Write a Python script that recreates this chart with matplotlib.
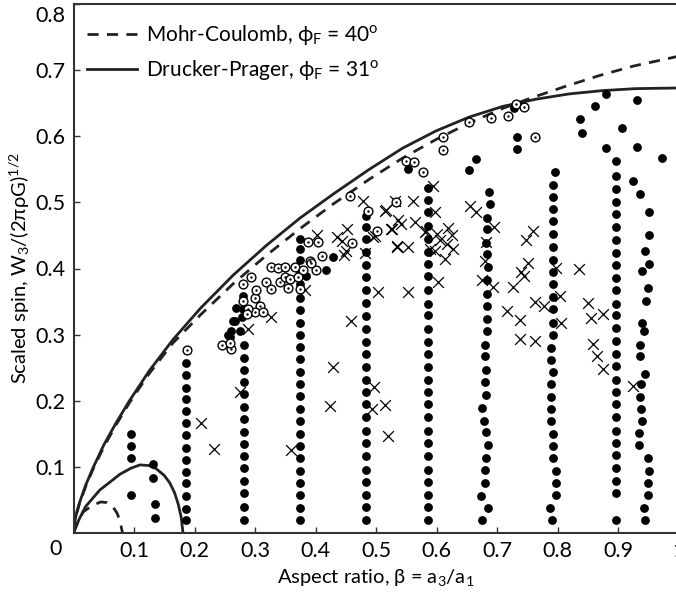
import matplotlib
matplotlib.use("Agg")
import matplotlib.pyplot as plt
from matplotlib.transforms import ScaledTranslation

FONT = "Lato"
plt.rcParams['font.family'] = [FONT, 'DejaVu Sans']
plt.rcParams['mathtext.fontset'] = 'custom'
plt.rcParams['mathtext.rm'] = FONT
plt.rcParams['mathtext.it'] = FONT
plt.rcParams['mathtext.bf'] = FONT

# ---------------- data ----------------
# theoretical limit curves
dp_outer_x = [0, 0.002, 0.005, 0.010, 0.020, 0.032, 0.050, 0.070, 0.0925, 0.125, 0.164, 0.210, 0.264, 0.319,
              0.374, 0.430, 0.489, 0.544, 0.599, 0.654, 0.709, 0.764, 0.819, 0.874, 0.929, 1.0]
dp_outer_y = [0, 0.016, 0.030, 0.046, 0.072, 0.098, 0.133, 0.166, 0.200, 0.245, 0.292, 0.340, 0.390, 0.435,
              0.476, 0.513, 0.550, 0.582, 0.608, 0.629, 0.645, 0.656, 0.664, 0.669, 0.672, 0.673]
mc_outer_x = [0, 0.002, 0.005, 0.010, 0.020, 0.032, 0.050, 0.070, 0.0925, 0.125, 0.164, 0.210, 0.264, 0.319,
              0.374, 0.430, 0.489, 0.544, 0.599, 0.654, 0.709, 0.760, 0.815, 0.870, 0.925, 1.0]
mc_outer_y = [0, 0.015, 0.029, 0.045, 0.070, 0.096, 0.130, 0.163, 0.197, 0.241, 0.287, 0.330, 0.377, 0.420,
              0.460, 0.498, 0.535, 0.567, 0.595, 0.620, 0.642, 0.659, 0.676, 0.692, 0.706, 0.721]
dp_inner_x = [0, 0.005, 0.010, 0.020, 0.0435, 0.077, 0.095, 0.110, 0.125, 0.137, 0.150, 0.159, 0.167, 0.173, 0.178, 0.181]
dp_inner_y = [0, 0.012, 0.022, 0.040, 0.065, 0.089, 0.098, 0.103, 0.102, 0.097, 0.087, 0.076, 0.061, 0.044, 0.024, 0.0]
mc_inner_x = [0, 0.008, 0.016, 0.032, 0.045, 0.055, 0.065, 0.072, 0.077, 0.081]
mc_inner_y = [0, 0.018, 0.032, 0.042, 0.047, 0.046, 0.040, 0.030, 0.018, 0.0]

# filled dots: columns
colA_x = [0.095, 0.095, 0.095, 0.095]
colA_y = [0.150, 0.132, 0.113, 0.057]
colB_x = [0.131, 0.131, 0.135, 0.135]
colB_y = [0.104, 0.083, 0.044, 0.022]
colC_y = [0.257, 0.239, 0.220, 0.202, 0.184, 0.166, 0.148, 0.129, 0.111, 0.093, 0.075, 0.056, 0.037, 0.020]
colD_y = [0.284, 0.265, 0.246, 0.228, 0.210, 0.191, 0.173, 0.153, 0.135, 0.116, 0.098, 0.079, 0.060, 0.040, 0.020]
colE_y = [0.445, 0.429, 0.413, 0.395, 0.377, 0.356, 0.337, 0.318, 0.300, 0.281, 0.263, 0.244, 0.226, 0.207,
          0.187, 0.169, 0.150, 0.131, 0.113, 0.094, 0.075, 0.057, 0.038, 0.020]
colF_y = [0.480, 0.463, 0.445, 0.425, 0.406, 0.387, 0.368, 0.348, 0.328, 0.309, 0.289, 0.270, 0.251, 0.232,
          0.213, 0.195, 0.175, 0.155, 0.136, 0.116, 0.096, 0.077, 0.058, 0.040, 0.020]
colG_y = [0.522, 0.503, 0.485, 0.465, 0.444, 0.425, 0.407, 0.388, 0.368, 0.347, 0.329, 0.309, 0.289, 0.270,
          0.251, 0.232, 0.213, 0.195, 0.175, 0.155, 0.136, 0.116, 0.096, 0.077, 0.058, 0.040, 0.020]
colH_x = [0.687, 0.688, 0.683, 0.684, 0.681, 0.684, 0.685, 0.683, 0.684, 0.684, 0.683, 0.684, 0.680, 0.680,
          0.681, 0.680, 0.681, 0.676, 0.678, 0.682, 0.685, 0.682, 0.680, 0.680, 0.674, 0.685, 0.676]
colH_y = [0.515, 0.497, 0.476, 0.459, 0.439, 0.422, 0.402, 0.383, 0.362, 0.344, 0.324, 0.305, 0.285, 0.267,
          0.247, 0.228, 0.209, 0.189, 0.170, 0.152, 0.133, 0.114, 0.095, 0.075, 0.056, 0.038, 0.019]
colI_x = [0.796, 0.792, 0.792, 0.792, 0.792, 0.792, 0.792, 0.792, 0.792, 0.792, 0.792, 0.792, 0.792, 0.792,
          0.790, 0.790, 0.792, 0.790, 0.790, 0.790, 0.790, 0.793, 0.792, 0.793, 0.797, 0.797, 0.797, 0.787, 0.791]
colI_y = [0.546, 0.526, 0.508, 0.490, 0.472, 0.452, 0.432, 0.413, 0.394, 0.376, 0.357, 0.338, 0.318, 0.300,
          0.280, 0.262, 0.243, 0.225, 0.206, 0.187, 0.169, 0.150, 0.131, 0.113, 0.094, 0.075, 0.057, 0.038, 0.019]
colJ_y = [0.562, 0.540, 0.520, 0.501, 0.482, 0.463, 0.443, 0.424, 0.406, 0.386, 0.367, 0.347, 0.329, 0.310,
          0.290, 0.271, 0.252, 0.232, 0.213, 0.195, 0.175, 0.155, 0.136, 0.118, 0.098, 0.079, 0.060, 0.019]
colK_x = [0.951, 0.951, 0.944, 0.951, 0.940, 0.950, 0.947, 0.940, 0.943, 0.936, 0.936, 0.945, 0.938, 0.936,
          0.938, 0.939, 0.935, 0.935, 0.949, 0.951, 0.949, 0.949, 0.943, 0.944]
colK_y = [0.486, 0.450, 0.426, 0.407, 0.396, 0.371, 0.351, 0.317, 0.305, 0.285, 0.267, 0.241, 0.225, 0.206,
          0.187, 0.170, 0.151, 0.133, 0.113, 0.094, 0.075, 0.057, 0.038, 0.019]
colC_x_val = 0.186
colD_x_val = 0.281
colE_x_val = 0.375
colF_x_val = 0.483
colG_x_val = 0.586
colJ_x_val = 0.896

extra_dots_x = [0.255, 0.264, 0.269, 0.275, 0.261, 0.278, 0.258, 0.267, 0.280, 0.280, 0.385, 0.418, 0.429,
                0.553, 0.666, 0.654, 0.733, 0.733, 0.728, 0.837, 0.841, 0.862, 0.880, 0.880, 0.907,
                0.931, 0.931, 0.973, 0.924, 0.936]
extra_dots_y = [0.299, 0.321, 0.341, 0.306, 0.306, 0.326, 0.296, 0.321, 0.338, 0.359, 0.389, 0.398, 0.418,
                0.551, 0.565, 0.549, 0.599, 0.580, 0.642, 0.626, 0.605, 0.646, 0.664, 0.582, 0.613,
                0.655, 0.584, 0.567, 0.532, 0.512]

# circled-dot markers
circ_x = [0.187, 0.246, 0.261, 0.258, 0.280, 0.294, 0.280, 0.300, 0.302, 0.308, 0.300, 0.289, 0.286, 0.313,
          0.319, 0.327, 0.327, 0.338, 0.349, 0.341, 0.349, 0.358, 0.355, 0.366, 0.379, 0.391, 0.401, 0.388,
          0.404, 0.410, 0.374, 0.371, 0.393, 0.457, 0.487, 0.460, 0.501, 0.533, 0.549, 0.563, 0.578, 0.610,
          0.610, 0.654, 0.690, 0.719, 0.731, 0.745, 0.762]
circ_y = [0.277, 0.285, 0.279, 0.288, 0.376, 0.387, 0.351, 0.356, 0.367, 0.344, 0.334, 0.339, 0.331, 0.334,
          0.379, 0.369, 0.402, 0.401, 0.403, 0.379, 0.387, 0.384, 0.371, 0.403, 0.397, 0.412, 0.398, 0.440,
          0.440, 0.419, 0.369, 0.387, 0.409, 0.509, 0.487, 0.439, 0.456, 0.501, 0.562, 0.561, 0.546, 0.599,
          0.579, 0.621, 0.627, 0.630, 0.649, 0.644, 0.599]

# crosses
cross_x = [0.211, 0.232, 0.276, 0.289, 0.326, 0.359, 0.429, 0.424, 0.382, 0.402, 0.435, 0.452, 0.451, 0.447,
           0.459, 0.481, 0.495, 0.479, 0.444, 0.503, 0.496, 0.493, 0.515, 0.520, 0.515, 0.525, 0.534, 0.531,
           0.561, 0.517, 0.537, 0.542, 0.526, 0.564, 0.581, 0.600, 0.619, 0.625, 0.605, 0.617, 0.627, 0.614,
           0.603, 0.597, 0.534, 0.553, 0.553, 0.498, 0.583, 0.589, 0.594, 0.598, 0.656, 0.665, 0.695, 0.681,
           0.680, 0.676, 0.693, 0.760, 0.748, 0.751, 0.739, 0.744, 0.727, 0.716, 0.738, 0.738, 0.762, 0.763,
           0.777, 0.798, 0.804, 0.806, 0.835, 0.850, 0.856, 0.876, 0.859, 0.865, 0.876, 0.925]
cross_y = [0.166, 0.127, 0.213, 0.309, 0.326, 0.126, 0.251, 0.192, 0.368, 0.450, 0.448, 0.460, 0.427, 0.421,
           0.321, 0.424, 0.448, 0.502, 0.442, 0.364, 0.221, 0.188, 0.194, 0.146, 0.487, 0.460, 0.433, 0.502,
           0.502, 0.488, 0.473, 0.467, 0.460, 0.470, 0.455, 0.452, 0.462, 0.450, 0.443, 0.437, 0.429, 0.414,
           0.379, 0.427, 0.434, 0.432, 0.364, 0.449, 0.457, 0.429, 0.525, 0.486, 0.494, 0.485, 0.463, 0.440,
           0.412, 0.383, 0.372, 0.457, 0.443, 0.409, 0.395, 0.388, 0.372, 0.336, 0.322, 0.293, 0.290, 0.350,
           0.343, 0.401, 0.358, 0.318, 0.399, 0.348, 0.325, 0.331, 0.286, 0.267, 0.248, 0.223]

x_ticks = [0.1, 0.2, 0.3, 0.4, 0.5, 0.6, 0.7, 0.8, 0.9, 1.0]
x_ticklabels = ["0.1", "0.2", "0.3", "0.4", "0.5", "0.6", "0.7", "0.8", "0.9", "1"]
y_ticks = [0.1, 0.2, 0.3, 0.4, 0.5, 0.6, 0.7, 0.8]
y_ticklabels = ["0.1", "0.2", "0.3", "0.4", "0.5", "0.6", "0.7", "0.8"]

# ---------------- plot ----------------
W, H = 676, 597
fig = plt.figure(figsize=(W / 100, H / 100), dpi=100)
ax = fig.add_axes([73.5 / W, 64 / H, 605 / W, 529 / H])
ax.set_xlim(0, 1)
ax.set_ylim(0, 0.8)

lc = "#222222"
ax.plot(mc_outer_x, mc_outer_y, color=lc, lw=2.0, dashes=[4, 3], zorder=2,
        label=r"Mohr-Coulomb, $\phi_\mathrm{F}$ = 40$^\mathrm{o}$")
ax.plot(dp_outer_x, dp_outer_y, color=lc, lw=2.0, zorder=2,
        label=r"Drucker-Prager, $\phi_\mathrm{F}$ = 31$^\mathrm{o}$")
ax.plot(dp_inner_x, dp_inner_y, color=lc, lw=2.0, zorder=2)
ax.plot(mc_inner_x, mc_inner_y, color=lc, lw=2.0, dashes=[4, 3], zorder=2)

dot_kw = dict(s=40, color="black", linewidths=0, zorder=3)
ax.scatter(colA_x, colA_y, **dot_kw)
ax.scatter(colB_x, colB_y, **dot_kw)
ax.scatter([colC_x_val] * len(colC_y), colC_y, **dot_kw)
ax.scatter([colD_x_val] * len(colD_y), colD_y, **dot_kw)
ax.scatter([colE_x_val] * len(colE_y), colE_y, **dot_kw)
ax.scatter([colF_x_val] * len(colF_y), colF_y, **dot_kw)
ax.scatter([colG_x_val] * len(colG_y), colG_y, **dot_kw)
ax.scatter(colH_x, colH_y, **dot_kw)
ax.scatter(colI_x, colI_y, **dot_kw)
ax.scatter([colJ_x_val] * len(colJ_y), colJ_y, **dot_kw)
ax.scatter(colK_x, colK_y, **dot_kw)
ax.scatter(extra_dots_x, extra_dots_y, **dot_kw)

ax.scatter(cross_x, cross_y, marker="x", s=60, color="black", linewidths=0.9, zorder=4)

ax.scatter(circ_x, circ_y, s=40, facecolor="white", edgecolor="black", linewidths=1.0, zorder=5)
ax.scatter(circ_x, circ_y, s=3, color="black", linewidths=0, zorder=6)

ax.set_xticks(x_ticks)
ax.set_xticklabels(x_ticklabels)
ax.set_yticks(y_ticks)
ax.set_yticklabels(y_ticklabels)
ax.tick_params(direction="in", length=4, width=1.0, color="#333333", labelsize=15.5, pad=6)
for sp in ax.spines.values():
    sp.set_linewidth(1.5)
    sp.set_color("#333333")

# the top label sits a little lower so it stays inside the figure
top_lab = ax.get_yticklabels()[-1]
top_lab.set_transform(top_lab.get_transform() + ScaledTranslation(0, -7 / 72, fig.dpi_scale_trans))

ax.text(-0.02, -0.012, "0", transform=ax.transAxes, ha="right", va="top", fontsize=15.5)

ax.set_xlabel(r"Aspect ratio, $\beta$ = a$_3$/a$_1$", fontsize=14.5, labelpad=4)
ax.set_ylabel(r"Scaled spin, W$_3$/(2$\pi\rho$G)$^{1/2}$", fontsize=14.5, labelpad=2)

leg = ax.legend(loc="upper left", bbox_to_anchor=(0.0, 0.99), frameon=False, fontsize=15,
                handlelength=2.4, handletextpad=0.45, borderaxespad=0.0, borderpad=0.65,
                labelspacing=0.55)

fig.savefig("out.png", dpi=100)
